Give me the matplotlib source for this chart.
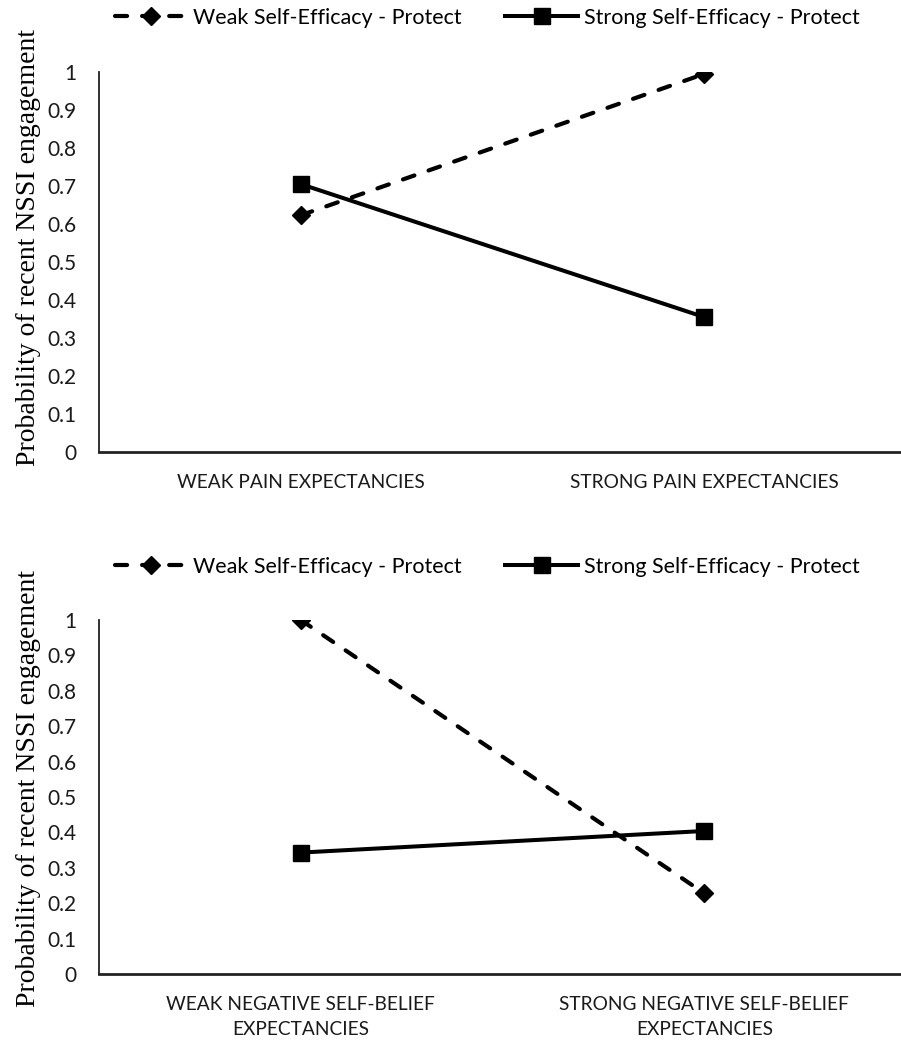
import numpy as np
import matplotlib
matplotlib.use('Agg')
import matplotlib.pyplot as plt

# data
series_names = ['Weak Self-Efficacy - Protect', 'Strong Self-Efficacy - Protect']
cats_pain = ['WEAK PAIN EXPECTANCIES', 'STRONG PAIN EXPECTANCIES']
weak_pain = [0.623, 0.995]
strong_pain = [0.705, 0.355]
cats_belief = ['WEAK NEGATIVE SELF-BELIEF\nEXPECTANCIES', 'STRONG NEGATIVE SELF-BELIEF\nEXPECTANCIES']
weak_belief = [1.0, 0.228]
strong_belief = [0.343, 0.404]
yticks = [0, 0.1, 0.2, 0.3, 0.4, 0.5, 0.6, 0.7, 0.8, 0.9, 1]
ytick_labels = ['0', '0.1', '0.2', '0.3', '0.4', '0.5', '0.6', '0.7', '0.8', '0.9', '1']
ylab = 'Probability of recent NSSI engagement'

plt.rcParams['font.family'] = ['Lato', 'DejaVu Sans']

W, H = 901, 1041
fig = plt.figure(figsize=(W/100, H/100), dpi=100)

def panel(rect, cats, weak, strong, leg_y, lab_y):
    ax = fig.add_axes(rect)
    x = np.arange(len(cats))
    ax.plot(x, weak, color='black', lw=3.0, ls=(0, (2.9, 3.6)), dash_capstyle='round',
            marker='D', ms=9.0, label=series_names[0])
    ax.plot(x, strong, color='black', lw=2.9, marker='s', ms=12.2, label=series_names[1])
    ax.set_xlim(-0.5, 1.5)
    ax.set_ylim(0, 1)
    ax.set_yticks(yticks)
    ax.set_yticklabels(ytick_labels, fontsize=15, color='#1a1a1a')
    ax.set_xticks(x)
    ax.set_xticklabels(cats, fontsize=13.8, color='#1a1a1a', linespacing=1.55)
    ax.tick_params(axis='y', length=0, pad=16)
    ax.tick_params(axis='x', length=0, pad=16)
    for s in ['top', 'right']:
        ax.spines[s].set_visible(False)
    ax.spines['left'].set_linewidth(1.3)
    ax.spines['left'].set_color('#222222')
    ax.spines['bottom'].set_linewidth(2.0)
    ax.spines['bottom'].set_color('#222222')
    ax.set_ylabel(ylab, family='Liberation Serif', fontsize=20)
    ax.yaxis.set_label_coords(-0.072, lab_y)
    fig.legend(handles=ax.get_lines(), loc='center', bbox_to_anchor=(487/W, leg_y),
               ncol=2, frameon=False, fontsize=15.5, handlelength=3.4,
               handletextpad=0.25, columnspacing=2.0)
    return ax

panel([99/W, 1-452/H, 807/W, 380/H], cats_pain, weak_pain, strong_pain, 1-18/H, 0.537)
panel([99/W, 1-974/H, 807/W, 354/H], cats_belief, weak_belief, strong_belief, 1-567/H, 0.525)

fig.savefig('out.png', dpi=100)
